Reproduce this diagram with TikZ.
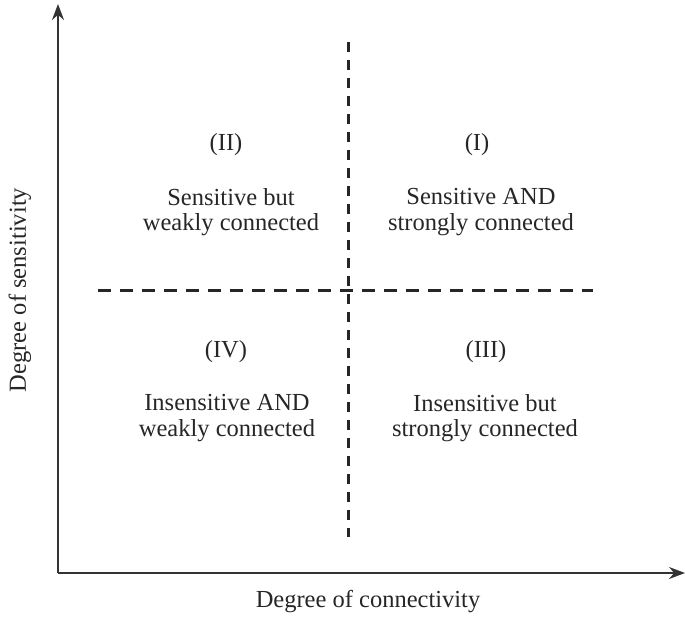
\documentclass[tikz,border=0pt]{standalone}
\usepackage{fontspec}
\setmainfont{Liberation Serif}
\usetikzlibrary{arrows.meta}
\begin{document}
\begin{tikzpicture}[x=1pt,y=-1pt,
  axis/.style={line width=1.8pt,draw=black!80,-{Stealth[length=16pt,width=12pt]}},
  divider/.style={line width=3pt,draw=black!85},
  quadtext/.style={align=center,inner sep=0pt,font=\fontsize{24.5}{25.5}\selectfont,text=black!85},
  numtext/.style={inner sep=0pt,font=\fontsize{24.5}{25}\selectfont,text=black!85},
  axislabel/.style={inner sep=0pt,font=\fontsize{24.5}{25}\selectfont,text=black!85}]
\useasboundingbox (0,0) rectangle (685,616);

% axes
\coordinate (origin) at (58,573);
\coordinate (ytip) at (58,4);
\coordinate (xtip) at (685,573);
\draw[axis] (origin) -- (ytip);
\draw[axis] (origin) -- (xtip);

% quadrant dividers
\coordinate (vtop) at (348,42);
\coordinate (vbot) at (348,537);
\coordinate (hleft) at (98,290);
\coordinate (hright) at (593,290);
\draw[divider,dash pattern=on 10pt off 8pt] (vtop) -- (vbot);
\draw[divider,dash pattern=on 13pt off 9pt] (hleft) -- (hright);

% quadrant labels
\node[numtext] (nII) at (226,145) {(II)};
\node[quadtext] (tII) at (231,212) {Sensitive but\\weakly connected};
\node[numtext] (nI) at (477,145) {(I)};
\node[quadtext] (tI) at (481,212) {Sensitive AND\\strongly connected};
\node[numtext] (nIV) at (226,352) {(IV)};
\node[quadtext] (tIV) at (227,418) {Insensitive AND\\weakly connected};
\node[numtext] (nIII) at (486,352) {(III)};
\node[quadtext] (tIII) at (485,418) {Insensitive but\\strongly connected};

% axis titles
\node[axislabel] (xlab) at (368,602) {Degree of connectivity};
\node[axislabel,rotate=90] (ylab) at (20,290) {Degree of sensitivity};
\end{tikzpicture}
\end{document}
